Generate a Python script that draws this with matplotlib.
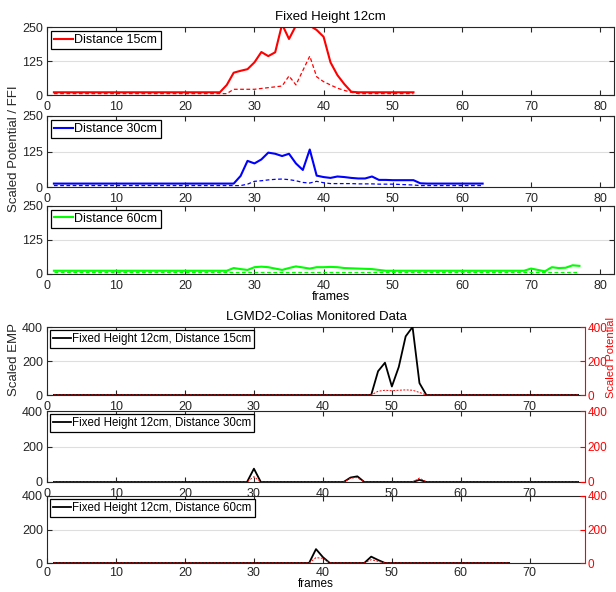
import numpy as np
import matplotlib
matplotlib.use("Agg")
import matplotlib.pyplot as plt

plt.rcParams['font.family'] = ['Liberation Sans', 'DejaVu Sans']

# ---------------- data: top (simulation) ----------------
frames15 = list(range(1, 54))
pot15 = [10]*25 + [37, 82, 89, 95, 120, 158, 143, 157, 260, 206, 255, 260, 255, 239, 214,
                   120, 73, 40, 12] + [10]*9
ffi15 = [5]*26 + [21, 21, 21, 21, 24, 27, 30, 33, 70, 37, 90, 143, 67, 49, 37, 25, 17, 10] + [5]*9

frames30 = list(range(1, 64))
pot30 = [12]*27 + [39, 92, 83, 97, 121, 117, 109, 117, 83, 60, 132, 40, 35, 32, 37, 35, 32, 30,
                   30, 37, 25, 25, 24, 24, 24, 24, 13] + [12]*9
ffi30 = [5]*28 + [10, 20, 22, 25, 27, 28, 26, 22, 16, 14, 20, 15, 12, 12, 12, 12, 11, 11, 11,
                  10, 10, 10, 9, 8, 7] + [5]*10

frames60 = list(range(1, 78))
pot60 = [12]*26 + [22, 18, 15, 25, 27, 25, 20, 15, 22, 28, 24, 20, 25, 25, 26, 25, 22, 21, 20,
                   19, 18, 15] + [12]*21 + [20, 15, 10, 25, 22, 23, 32, 30]
ffi60 = [6]*77

# ---------------- data: bottom (robot) ----------------
framesR = list(range(1, 78))
emp15 = [0]*77
for f, v in {48: 140, 49: 190, 50: 50, 51: 165, 52: 345, 53: 400, 54: 70}.items():
    emp15[f-1] = v
sp15 = [0]*77
for f, v in {48: 22, 49: 28, 50: 25, 51: 28, 52: 30, 53: 28, 54: 15}.items():
    sp15[f-1] = v

emp30 = [0]*77
for f, v in {30: 75, 44: 25, 45: 32, 54: 12}.items():
    emp30[f-1] = v
sp30 = [0]*77
for f, v in {30: 30, 44: 22, 45: 25, 54: 22}.items():
    sp30[f-1] = v

framesR60 = list(range(1, 68))
emp60 = [0]*67
for f, v in {39: 83, 40: 35, 47: 38, 48: 18}.items():
    emp60[f-1] = v
sp60 = [0]*67
for f, v in {39: 32, 40: 28, 47: 20, 48: 10}.items():
    sp60[f-1] = v

W, H = 616, 592
fig = plt.figure(figsize=(W/100, H/100), dpi=100)

def ax_px(left, right, top, bottom):
    return fig.add_axes([left/W, 1-bottom/H, (right-left)/W, (bottom-top)/H])

dark = '#262626'
gridc = '#dedede'
FS = 9

def style(ax, xlim, xticks, ylim, yticks):
    ax.set_xlim(*xlim)
    ax.set_ylim(*ylim)
    ax.set_xticks(xticks)
    ax.set_yticks(yticks)
    ax.tick_params(direction='in', length=3.5, width=0.8, labelsize=FS, colors=dark,
                   top=True, right=True)
    ax.tick_params(axis='x', pad=4.5)
    ax.tick_params(axis='y', pad=3)
    ax.yaxis.grid(True, color=gridc, linewidth=0.8)
    ax.set_axisbelow(True)
    for s in ax.spines.values():
        s.set_color(dark)
        s.set_linewidth(0.8)

def leg(ax, label, fs):
    ax.legend(loc='upper left', fancybox=False, edgecolor='black', framealpha=1,
              handlelength=1.5, handletextpad=0.15, borderpad=0.25, borderaxespad=0.3,
              fontsize=fs).get_frame().set_linewidth(0.9)

top_specs = [
    (27, 95, frames15, pot15, ffi15, '#ff0000', 'Distance 15cm'),
    (116, 187, frames30, pot30, ffi30, '#0000ff', 'Distance 30cm'),
    (206, 274, frames60, pot60, ffi60, '#00ff00', 'Distance 60cm'),
]
top_axes = []
for (t, b, fr, p, q, c, lab) in top_specs:
    ax = ax_px(47, 614, t, b)
    ax.plot(fr, p, color=c, lw=1.5, label=lab, clip_on=True)
    ax.plot(fr, q, color=c, lw=0.9, ls=(0, (3, 2)))
    style(ax, (0, 82), range(0, 81, 10), (0, 250), [0, 125, 250])
    leg(ax, lab, 9)
    top_axes.append(ax)
top_axes[0].set_title('Fixed Height 12cm', fontsize=9.5, color='black', pad=5)
top_axes[2].set_xlabel('frames', fontsize=FS, labelpad=-1)
fig.text(14/W, 1-149/H, 'Scaled Potential / FFI', rotation=90, ha='center', va='center',
         fontsize=9.5, color=dark)

bot_specs = [
    (327, 395, framesR, emp15, sp15, 'Fixed Height 12cm, Distance 15cm'),
    (411, 482, framesR, emp30, sp30, 'Fixed Height 12cm, Distance 30cm'),
    (496, 563, framesR60, emp60, sp60, 'Fixed Height 12cm, Distance 60cm'),
]
bot_axes = []
for (t, b, fr, e, s, lab) in bot_specs:
    ax = ax_px(47, 585, t, b)
    ax.plot(fr, e, color='black', lw=1.3, label=lab, zorder=3)
    style(ax, (0, 78), range(0, 71, 10), (0, 400), [0, 200, 400])
    ax.tick_params(right=False)
    ax.spines['right'].set_visible(False)
    ax2 = ax.twinx()
    ax2.plot(fr, s, color='#ff0000', lw=0.7, ls=(0, (2, 1.5)), zorder=2)
    ax2.set_ylim(0, 400)
    ax2.set_yticks([0, 200, 400])
    ax2.tick_params(axis='y', direction='in', length=3.5, width=0.8, labelsize=FS - 0.5,
                    colors='#ff0000', pad=2)
    for k, sp in ax2.spines.items():
        sp.set_visible(k == 'right')
    ax2.spines['right'].set_color('#ff0000')
    ax2.spines['right'].set_linewidth(0.8)
    leg(ax, lab, 8.3)
    bot_axes.append((ax, ax2))
bot_axes[0][0].set_title('LGMD2-Colias Monitored Data', fontsize=9.5, color='black', pad=5)
bot_axes[2][0].tick_params(axis='x', pad=3)
bot_axes[2][0].set_xlabel('frames', fontsize=8.5, labelpad=-1)
fig.text(14/W, 1-360/H, 'Scaled EMP', rotation=90, ha='center', va='center',
         fontsize=9.5, color=dark)
fig.text(611/W, 1-358/H, 'Scaled Potential', rotation=90, ha='center', va='center',
         fontsize=8, color='#ff0000')

fig.savefig('out.png', dpi=100)
